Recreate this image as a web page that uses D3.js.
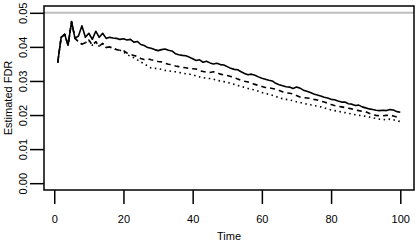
<!DOCTYPE html>
<html><head><meta charset="utf-8">
<script src="https://cdn.jsdelivr.net/npm/d3@7"></script>
<style>body{margin:0;background:#fff}svg{display:block}text{font-family:"Liberation Sans",Arial,sans-serif;font-size:11px;fill:#000}</style>
</head><body>
<script>
const solid = [0.0354,0.0428,0.0437,0.0405,0.0474,0.0425,0.0432,0.0462,0.0428,0.0440,
0.0422,0.0446,0.0428,0.0440,0.0425,0.0428,0.0426,0.0425,0.0422,0.0424,
0.0420,0.0422,0.0414,0.0416,0.0407,0.0404,0.0398,0.0396,0.0392,0.0389,
0.0392,0.0394,0.0390,0.0388,0.0380,0.0377,0.0375,0.0374,0.0370,0.0365,
0.0360,0.0362,0.0355,0.0358,0.0353,0.0350,0.0352,0.0348,0.0347,0.0342,
0.0337,0.0334,0.0333,0.0327,0.0322,0.0318,0.0320,0.0317,0.0312,0.0308,
0.0305,0.0302,0.0300,0.0293,0.0289,0.0286,0.0283,0.0282,0.0278,0.0282,
0.0279,0.0273,0.0270,0.0266,0.0262,0.0259,0.0256,0.0252,0.0250,0.0246,
0.0245,0.0241,0.0238,0.0238,0.0233,0.0232,0.0228,0.0229,0.0224,0.0221,
0.0218,0.0216,0.0214,0.0213,0.0214,0.0213,0.0216,0.0215,0.0210,0.0208];
const dashed = [0.0354,0.0428,0.0437,0.0405,0.0474,0.0425,0.0415,0.0408,0.0412,0.0420,
0.0405,0.0415,0.0402,0.0410,0.0398,0.0400,0.0396,0.0392,0.0390,0.0389,
0.0382,0.0378,0.0375,0.0372,0.0366,0.0363,0.0365,0.0362,0.0360,0.0357,
0.0356,0.0352,0.0349,0.0348,0.0344,0.0342,0.0340,0.0339,0.0337,0.0336,
0.0335,0.0330,0.0328,0.0326,0.0325,0.0327,0.0324,0.0320,0.0318,0.0316,
0.0313,0.0310,0.0306,0.0302,0.0299,0.0297,0.0293,0.0290,0.0287,0.0284,
0.0281,0.0280,0.0278,0.0276,0.0272,0.0268,0.0265,0.0264,0.0262,0.0257,
0.0253,0.0251,0.0250,0.0249,0.0246,0.0244,0.0241,0.0238,0.0235,0.0231,
0.0228,0.0226,0.0224,0.0222,0.0220,0.0218,0.0215,0.0213,0.0211,0.0210,
0.0205,0.0201,0.0199,0.0198,0.0198,0.0199,0.0200,0.0197,0.0194,0.0191];
const dotted = [0.0354,0.0428,0.0437,0.0405,0.0474,0.0425,0.0415,0.0408,0.0412,0.0420,
0.0405,0.0415,0.0402,0.0410,0.0398,0.0400,0.0396,0.0392,0.0390,0.0385,
0.0378,0.0372,0.0368,0.0362,0.0356,0.0350,0.0344,0.0338,0.0337,0.0336,
0.0334,0.0331,0.0330,0.0328,0.0327,0.0325,0.0323,0.0321,0.0320,0.0318,
0.0315,0.0312,0.0310,0.0308,0.0307,0.0305,0.0302,0.0300,0.0298,0.0296,
0.0293,0.0290,0.0287,0.0284,0.0281,0.0278,0.0276,0.0273,0.0270,0.0266,
0.0263,0.0261,0.0258,0.0255,0.0250,0.0248,0.0246,0.0244,0.0242,0.0239,
0.0237,0.0234,0.0232,0.0230,0.0228,0.0226,0.0224,0.0221,0.0218,0.0215,
0.0213,0.0211,0.0209,0.0207,0.0205,0.0203,0.0201,0.0199,0.0198,0.0196,
0.0194,0.0192,0.0190,0.0188,0.0187,0.0186,0.0188,0.0186,0.0183,0.0181];
const xTicks = [0,20,40,60,80,100];
const yTicks = [0.00,0.01,0.02,0.03,0.04,0.05];
const refLine = 0.05;
const xLabel = "Time", yLabel = "Estimated FDR";

const W=415,H=242, L=44,R=414,T=6,B=190;
const svg=d3.select("body").append("svg").attr("width",W).attr("height",H);
const x=d3.scaleLinear().domain([-2.96,103.96]).range([L,R]);
const y=d3.scaleLinear().domain([-0.002,0.052]).range([B,T]);

svg.append("line").attr("x1",L).attr("x2",R).attr("y1",y(refLine)).attr("y2",y(refLine))
  .attr("stroke","#bebebe").attr("stroke-width",2);

const line=d3.line().x((d,i)=>x(i+1)).y(d=>y(d));
const styles=[[solid,null],[dashed,"5,4"],[dotted,"1.5,3.5"]];
styles.forEach(([s,da])=>{
  const p=svg.append("path").datum(s).attr("d",line).attr("fill","none")
    .attr("stroke","#000").attr("stroke-width",1.6).attr("stroke-linejoin","round");
  if(da) p.attr("stroke-dasharray",da);
});

svg.append("rect").attr("x",L).attr("y",T).attr("width",R-L).attr("height",B-T)
  .attr("fill","none").attr("stroke","#000").attr("stroke-width",1.5);

const xa=svg.append("g").attr("transform",`translate(0,${B})`)
  .call(d3.axisBottom(x).tickValues(xTicks).tickSize(14).tickPadding(11).tickFormat(d3.format("d")));
xa.select(".domain").remove();
xa.selectAll("line").attr("stroke-width",1.5);
xa.selectAll("text").style("font-size","11px").attr("fill","#000");

const ya=svg.append("g").attr("transform",`translate(${L},0)`)
  .call(d3.axisLeft(y).tickValues(yTicks).tickSize(14).tickFormat(d3.format(".2f")));
ya.select(".domain").remove();
ya.selectAll("line").attr("stroke-width",1.5);
ya.selectAll("text").attr("x",null).attr("y",null).attr("dy",null).attr("text-anchor","middle")
  .attr("transform","translate(-17,0) rotate(-90)")
  .style("font-size","11px").attr("fill","#000");

svg.append("text").attr("x",(L+R)/2).attr("y",240).attr("text-anchor","middle").text(xLabel);
svg.append("text").attr("transform",`translate(12,${(T+B)/2}) rotate(-90)`).attr("text-anchor","middle").text(yLabel);
</script>
</body></html>
